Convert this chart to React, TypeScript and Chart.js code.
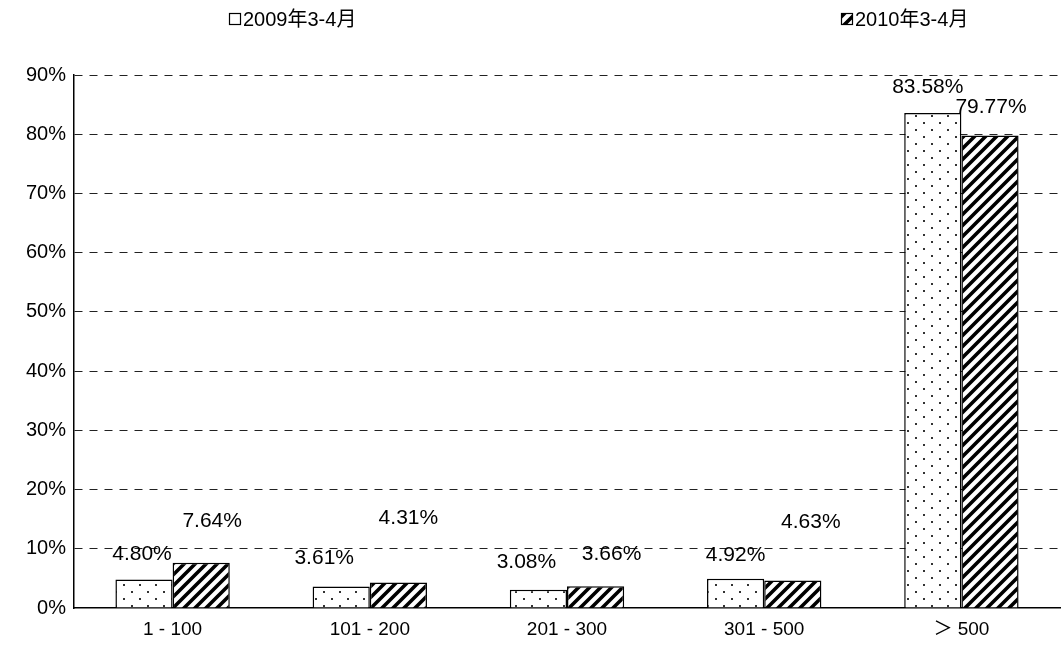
import React, { useEffect, useRef } from "react";
import { Chart, registerables } from "chart.js";

Chart.register(...registerables);

const categories = ["1 - 100", "101 - 200", "201 - 300", "301 - 500", "＞ 500"];
const series2009 = [4.8, 3.61, 3.08, 4.92, 83.58];
const series2010 = [7.64, 4.31, 3.66, 4.63, 79.77];
const seriesNames = ["2009年3-4月", "2010年3-4月"];
const yTicks = [0, 10, 20, 30, 40, 50, 60, 70, 80, 90];

// label placement offsets (px) relative to bar center / bar top, as in the original
const labelOffsets2009 = [[-2, -25], [-17, -28], [-12, -28], [0, -24], [-5, -26]];
const labelOffsets2010 = [[11, -42], [10, -64], [16, -32], [18, -58], [1, -28]];

const FONT = '"Liberation Sans", Arial, "Noto Sans CJK SC", sans-serif';

function makeDots(ctx: CanvasRenderingContext2D) {
  const c = document.createElement("canvas");
  c.width = 16;
  c.height = 14;
  const g = c.getContext("2d")!;
  g.fillStyle = "#fff";
  g.fillRect(0, 0, 16, 14);
  g.fillStyle = "#333";
  g.fillRect(3, 3, 2, 2);
  g.fillRect(11, 10, 2, 2);
  return ctx.createPattern(c, "repeat")!;
}

function makeHatch(ctx: CanvasRenderingContext2D) {
  const s = 11;
  const c = document.createElement("canvas");
  c.width = s;
  c.height = s;
  const g = c.getContext("2d")!;
  g.fillStyle = "#fff";
  g.fillRect(0, 0, s, s);
  g.strokeStyle = "#000";
  g.lineWidth = 3.6;
  g.beginPath();
  g.moveTo(-2, s + 2);
  g.lineTo(s + 2, -2);
  g.moveTo(-2 - s, s + 2);
  g.lineTo(2, -2);
  g.moveTo(s - 2, s + 2);
  g.lineTo(2 * s + 2, -2);
  g.stroke();
  return ctx.createPattern(c, "repeat")!;
}

export default function App() {
  const ref = useRef<HTMLCanvasElement>(null);
  useEffect(() => {
    const canvas = ref.current!;
    const ctx = canvas.getContext("2d")!;
    const dots = makeDots(ctx);
    const hatch = makeHatch(ctx);

    const labelPlugin = {
      id: "labels",
      afterDatasetsDraw(chart: any) {
        const c = chart.ctx;
        c.save();
        c.font = `21px ${FONT}`;
        c.fillStyle = "#000";
        c.textAlign = "center";
        c.textBaseline = "middle";
        const offs = [labelOffsets2009, labelOffsets2010];
        chart.data.datasets.forEach((ds: any, di: number) => {
          const meta = chart.getDatasetMeta(di);
          meta.data.forEach((bar: any, i: number) => {
            const [dx, dy] = offs[di][i];
            c.fillText(ds.data[i].toFixed(2) + "%", bar.x + dx, bar.y + dy);
          });
        });
        c.restore();
      },
    };

    const legendPlugin = {
      id: "customLegend",
      afterDraw(chart: any) {
        const c = chart.ctx;
        c.save();
        const items = [
          { x: 229, fill: dots, text: seriesNames[0] },
          { x: 841, fill: hatch, text: seriesNames[1] },
        ];
        items.forEach((it) => {
          c.fillStyle = it.fill;
          c.fillRect(it.x, 13, 11, 11);
          c.strokeStyle = "#000";
          c.lineWidth = 1.2;
          c.strokeRect(it.x + 0.5, 13.5, 11, 11);
          c.fillStyle = "#000";
          c.font = `20px ${FONT}`;
          c.textBaseline = "middle";
          c.textAlign = "left";
          c.fillText(it.text, it.x + 14, 20);
        });
        c.restore();
      },
    };

    const chart = new Chart(canvas, {
      type: "bar",
      data: {
        labels: categories,
        datasets: [
          {
            label: seriesNames[0],
            data: series2009,
            backgroundColor: dots,
            borderColor: "#000",
            borderWidth: 1.5,
            categoryPercentage: 0.58,
            barPercentage: 1,
          },
          {
            label: seriesNames[1],
            data: series2010,
            backgroundColor: hatch,
            borderColor: "#000",
            borderWidth: 1.5,
            categoryPercentage: 0.58,
            barPercentage: 1,
          },
        ],
      },
      options: {
        animation: false,
        responsive: false,
        maintainAspectRatio: false,
        layout: { padding: { top: 75, right: 2, left: 0, bottom: 0 } },
        plugins: { legend: { display: false }, tooltip: { enabled: false } },
        scales: {
          x: {
            grid: { display: false, drawTicks: false },
            border: { display: true, color: "#000", width: 1.5 },
            ticks: {
              color: "#000",
              font: { family: FONT, size: 19 },
              padding: 10,
            },
            afterFit(scale: any) {
              scale.height = 40;
            },
          },
          y: {
            min: 0,
            max: 90,
            afterBuildTicks(scale: any) {
              scale.ticks = yTicks.map((v) => ({ value: v }));
            },
            grid: {
              color: (c: any) => (c.tick && c.tick.value === 0 ? "rgba(0,0,0,0)" : "#222"),
              lineWidth: 1,
              drawTicks: false,
            },
            border: { display: true, color: "#000", width: 1.5, dash: [8, 7] },
            ticks: {
              color: "#000",
              font: { family: FONT, size: 20 },
              padding: 8,
              callback: (v: any) => `${v}%`,
            },
            afterFit(scale: any) {
              scale.width = 74;
            },
          },
        },
      },
      plugins: [labelPlugin, legendPlugin],
    });
    return () => chart.destroy();
  }, []);

  return (
    <div style={{ position: "absolute", left: 0, top: 0, width: 1062, height: 648, background: "#fff" }}>
      <canvas ref={ref} width={1062} height={648} style={{ width: 1062, height: 648 }} />
    </div>
  );
}
